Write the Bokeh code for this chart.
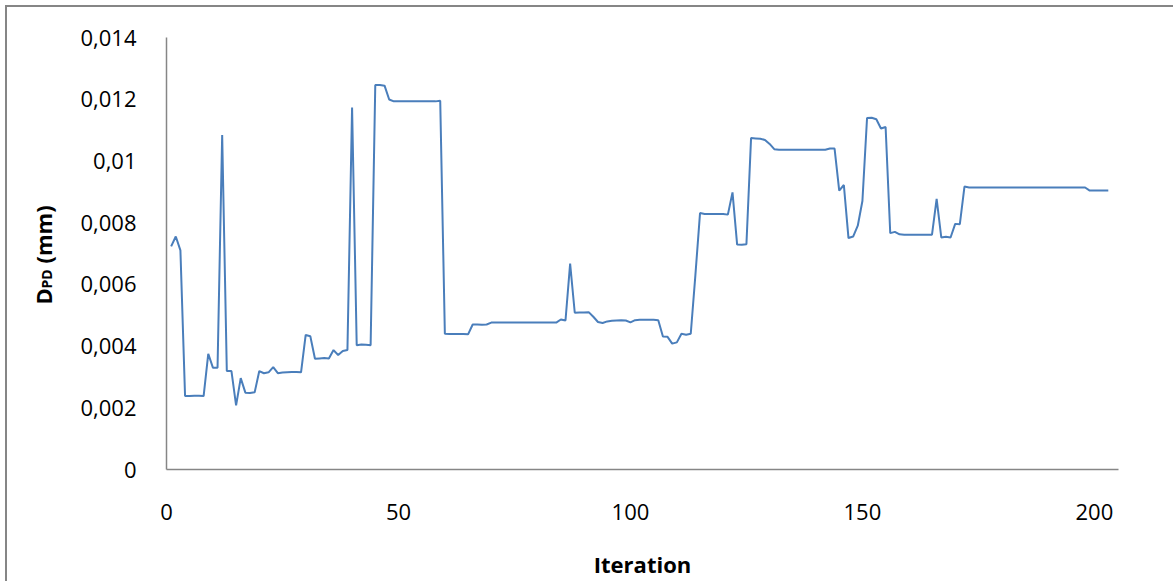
import math
from bokeh.plotting import figure
from bokeh.layouts import row
from bokeh.models import FixedTicker, Range1d
from bokeh.core.properties import value
from bokeh.embed import file_html
from bokeh.resources import INLINE

iterations = list(range(1, 204))
dpd_mm = [
    0.00723, 0.00755, 0.00710, 0.00238, 0.00238, 0.00239, 0.00239, 0.00238, 0.00375, 0.00330,
    0.00330, 0.01084, 0.00319, 0.00319, 0.00208, 0.00296, 0.00249, 0.00248, 0.00250, 0.00319,
    0.00312, 0.00315, 0.00332, 0.00312, 0.00314, 0.00315, 0.00316, 0.00316, 0.00315, 0.00436,
    0.00432, 0.00359, 0.00360, 0.00361, 0.00360, 0.00387, 0.00371, 0.00384, 0.00387, 0.01173,
    0.00403, 0.00405, 0.00404, 0.00403, 0.01246, 0.01246, 0.01244, 0.01199, 0.01193, 0.01193,
    0.01193, 0.01193, 0.01193, 0.01193, 0.01193, 0.01193, 0.01193, 0.01193, 0.01195, 0.00440,
    0.00439, 0.00439, 0.00439, 0.00439, 0.00438, 0.00470, 0.00470, 0.00469, 0.00470, 0.00476,
    0.00476, 0.00476, 0.00476, 0.00476, 0.00476, 0.00476, 0.00476, 0.00476, 0.00476, 0.00476,
    0.00476, 0.00476, 0.00476, 0.00476, 0.00486, 0.00483, 0.00667, 0.00508, 0.00509, 0.00509,
    0.00510, 0.00495, 0.00478, 0.00475, 0.00480, 0.00482, 0.00483, 0.00484, 0.00483, 0.00477,
    0.00484, 0.00485, 0.00485, 0.00485, 0.00485, 0.00484, 0.00431, 0.00430, 0.00408, 0.00412,
    0.00440, 0.00437, 0.00440, 0.00630, 0.00831, 0.00828, 0.00828, 0.00828, 0.00828, 0.00828,
    0.00826, 0.00898, 0.00729, 0.00728, 0.00730, 0.01074, 0.01073, 0.01072, 0.01068, 0.01055,
    0.01038, 0.01036, 0.01036, 0.01036, 0.01036, 0.01036, 0.01036, 0.01036, 0.01036, 0.01036,
    0.01036, 0.01036, 0.01040, 0.01040, 0.00904, 0.00922, 0.00750, 0.00755, 0.00790, 0.00870,
    0.01139, 0.01140, 0.01135, 0.01105, 0.01110, 0.00766, 0.00770, 0.00762, 0.00761, 0.00761,
    0.00761, 0.00761, 0.00761, 0.00761, 0.00761, 0.00877, 0.00752, 0.00754, 0.00752, 0.00796,
    0.00795, 0.00917, 0.00914, 0.00914, 0.00914, 0.00914, 0.00914, 0.00914, 0.00914, 0.00914,
    0.00914, 0.00914, 0.00914, 0.00914, 0.00914, 0.00914, 0.00914, 0.00914, 0.00914, 0.00914,
    0.00914, 0.00914, 0.00914, 0.00914, 0.00914, 0.00914, 0.00914, 0.00914, 0.00904, 0.00904,
    0.00904, 0.00904, 0.00904,
]
x_ticks = [0, 50, 100, 150, 200]
y_ticks = [0, 0.002, 0.004, 0.006, 0.008, 0.010, 0.012, 0.014]
y_tick_labels = ["0", "0,002", "0,004", "0,006", "0,008", "0,01", "0,012", "0,014"]
x_title = "Iteration"
y_title_parts = ["D", "PD", "(mm)"]

X_MAX = 205.2
Y_MAX = 0.014
FONT = "Open Sans"
AXIS_GRAY = "#868686"

H = 574          # both panels
LW = 60          # left title panel width
W = 1106         # main chart width
ML, MT, MR, MB = 99, 30, 55, 110

# ---- left panel holding the rotated y title (pixel-like coordinates) ----
pt = figure(frame_width=LW, frame_height=H, output_backend="svg", toolbar_location=None,
            x_range=Range1d(0, LW), y_range=Range1d(0, H),
            x_axis_type=None, y_axis_type=None,
            min_border_left=0, min_border_right=0, min_border_top=0, min_border_bottom=0)
pt.min_border = 0
pt.title.visible = False
pt.grid.visible = False
pt.outline_line_color = None
pt.background_fill_color = "white"
pt.border_fill_color = "white"

# approximate window px -> panel coords (calibrated)
def tx(px):
    return px - 15
def ty(py):
    return H - (py - 7) + 31

pt.text(x=[tx(50)], y=[ty(305)], text=[y_title_parts[0]], angle=math.pi / 2,
        text_font=value(FONT), text_font_style="bold", text_font_size="22px",
        text_color="black", text_align="left", text_baseline="alphabetic")
pt.text(x=[tx(54)], y=[ty(289)], text=[y_title_parts[1]], angle=math.pi / 2,
        text_font=value(FONT), text_font_style="bold", text_font_size="14px",
        text_color="black", text_align="left", text_baseline="alphabetic")
pt.text(x=[tx(50)], y=[ty(264)], text=[y_title_parts[2]], angle=math.pi / 2,
        text_font=value(FONT), text_font_style="bold", text_font_size="22px",
        text_color="black", text_align="left", text_baseline="alphabetic")

# ---- main chart ----
p = figure(width=W, height=H, output_backend="svg", toolbar_location=None,
           x_range=Range1d(0, X_MAX), y_range=Range1d(0, Y_MAX),
           min_border_left=ML, min_border_top=MT, min_border_right=MR, min_border_bottom=MB)
p.outline_line_color = None
p.grid.visible = False
p.background_fill_color = "white"
p.border_fill_color = "white"

p.line(iterations, dpd_mm, line_color="#4A7EBB", line_width=2)

for ax in (p.xaxis[0], p.yaxis[0]):
    ax.axis_line_color = AXIS_GRAY
    ax.axis_line_width = 1.5
    ax.major_tick_line_color = None
    ax.minor_tick_line_color = None
    ax.major_label_text_font = FONT
    ax.major_label_text_font_size = "22px"
    ax.major_label_text_color = "black"

p.xaxis.ticker = FixedTicker(ticks=x_ticks)
p.xaxis.major_label_standoff = 28
p.xaxis.axis_label = x_title
p.xaxis.axis_label_text_font = FONT
p.xaxis.axis_label_text_font_style = "bold"
p.xaxis.axis_label_text_font_size = "22px"
p.xaxis.axis_label_text_color = "black"
p.xaxis.axis_label_standoff = 26

p.yaxis.ticker = FixedTicker(ticks=y_ticks)
p.yaxis.major_label_overrides = {t: l for t, l in zip(y_ticks, y_tick_labels)}
p.yaxis.major_label_standoff = 24

layout = row(pt, p)
layout.spacing = 0
layout.styles = {"border-left": "2px solid " + AXIS_GRAY, "border-top": "2px solid " + AXIS_GRAY,
                 "margin-left": "5px", "margin-top": "5px", "background-color": "white"}

open("out.html", "w").write(file_html(layout, INLINE))
